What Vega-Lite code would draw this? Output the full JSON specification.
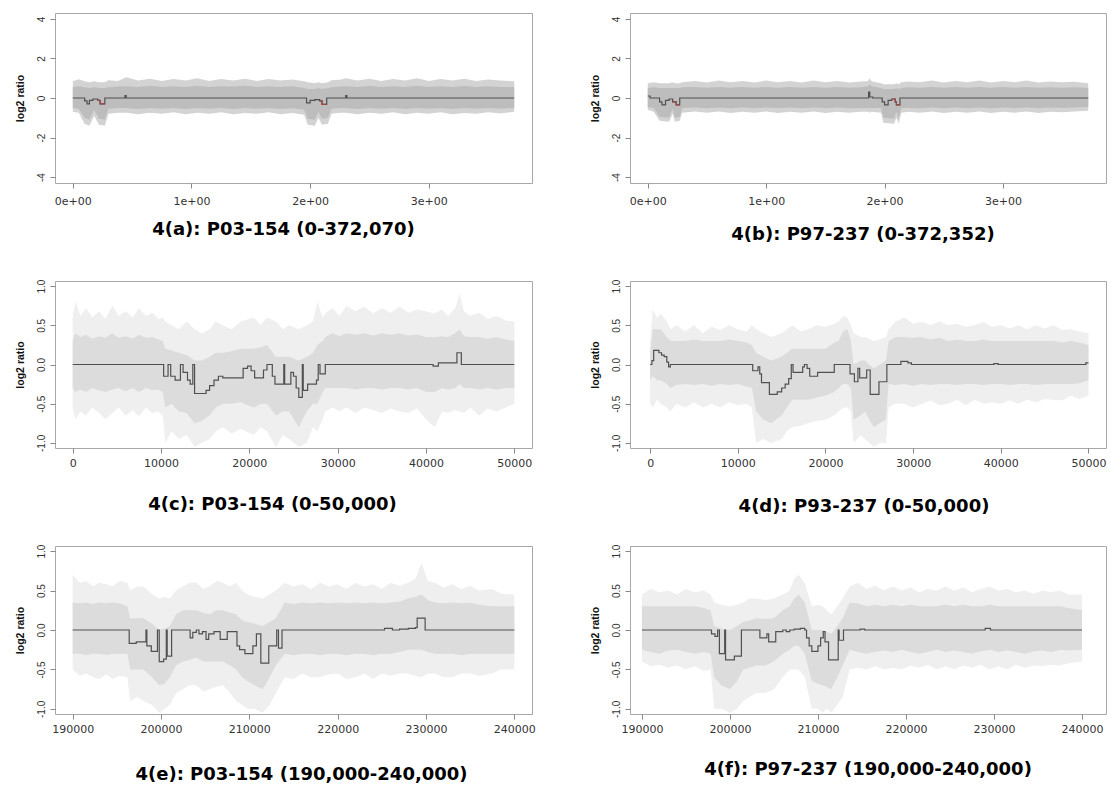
{
  "$schema": "https://vega.github.io/schema/vega-lite/v6.json",
  "padding": {"left": 14, "top": 12, "right": 0, "bottom": 0},
  "autosize": {"type": "pad"},
  "background": "white",
  "datasets": {
    "env_a": [
      {"x": 0, "hi": 0.85, "lo": -0.7, "hi2": 0.55, "lo2": -0.5},
      {"x": 0.05, "hi": 0.95, "lo": -0.75, "hi2": 0.6, "lo2": -0.55},
      {"x": 0.10, "hi": 0.85, "lo": -1.3, "hi2": 0.55, "lo2": -1.0},
      {"x": 0.14, "hi": 0.8, "lo": -1.4, "hi2": 0.5, "lo2": -1.1},
      {"x": 0.18, "hi": 0.85, "lo": -0.9, "hi2": 0.55, "lo2": -0.6},
      {"x": 0.22, "hi": 0.8, "lo": -1.35, "hi2": 0.5, "lo2": -1.05},
      {"x": 0.27, "hi": 0.8, "lo": -1.4, "hi2": 0.5, "lo2": -1.1},
      {"x": 0.30, "hi": 0.9, "lo": -0.8, "hi2": 0.55, "lo2": -0.55},
      {"x": 0.38, "hi": 0.86, "lo": -0.74, "hi2": 0.58, "lo2": -0.5},
      {"x": 0.45, "hi": 1.05, "lo": -0.75, "hi2": 0.6, "lo2": -0.5},
      {"x": 0.55, "hi": 0.88, "lo": -0.82, "hi2": 0.56, "lo2": -0.56},
      {"x": 0.65, "hi": 0.98, "lo": -0.74, "hi2": 0.62, "lo2": -0.5},
      {"x": 0.75, "hi": 0.86, "lo": -0.8, "hi2": 0.56, "lo2": -0.55},
      {"x": 0.85, "hi": 0.96, "lo": -0.72, "hi2": 0.6, "lo2": -0.5},
      {"x": 0.95, "hi": 0.88, "lo": -0.82, "hi2": 0.56, "lo2": -0.56},
      {"x": 1.05, "hi": 1.0, "lo": -0.74, "hi2": 0.62, "lo2": -0.5},
      {"x": 1.15, "hi": 0.86, "lo": -0.8, "hi2": 0.56, "lo2": -0.55},
      {"x": 1.25, "hi": 0.96, "lo": -0.72, "hi2": 0.6, "lo2": -0.5},
      {"x": 1.35, "hi": 0.88, "lo": -0.82, "hi2": 0.58, "lo2": -0.56},
      {"x": 1.45, "hi": 0.98, "lo": -0.76, "hi2": 0.62, "lo2": -0.5},
      {"x": 1.55, "hi": 0.86, "lo": -0.8, "hi2": 0.56, "lo2": -0.55},
      {"x": 1.65, "hi": 0.96, "lo": -0.72, "hi2": 0.6, "lo2": -0.5},
      {"x": 1.75, "hi": 0.88, "lo": -0.82, "hi2": 0.56, "lo2": -0.56},
      {"x": 1.85, "hi": 0.94, "lo": -0.76, "hi2": 0.6, "lo2": -0.52},
      {"x": 1.95, "hi": 0.85, "lo": -0.85, "hi2": 0.5, "lo2": -0.6},
      {"x": 1.98, "hi": 0.8, "lo": -1.35, "hi2": 0.45, "lo2": -1.05},
      {"x": 2.04, "hi": 0.75, "lo": -1.4, "hi2": 0.45, "lo2": -1.1},
      {"x": 2.07, "hi": 0.8, "lo": -1.0, "hi2": 0.5, "lo2": -0.7},
      {"x": 2.10, "hi": 0.75, "lo": -1.35, "hi2": 0.45, "lo2": -1.05},
      {"x": 2.15, "hi": 0.8, "lo": -1.3, "hi2": 0.5, "lo2": -1.0},
      {"x": 2.18, "hi": 0.9, "lo": -0.8, "hi2": 0.55, "lo2": -0.55},
      {"x": 2.25, "hi": 0.92, "lo": -0.74, "hi2": 0.58, "lo2": -0.5},
      {"x": 2.3, "hi": 1.0, "lo": -0.75, "hi2": 0.6, "lo2": -0.5},
      {"x": 2.4, "hi": 0.88, "lo": -0.82, "hi2": 0.56, "lo2": -0.56},
      {"x": 2.5, "hi": 0.98, "lo": -0.74, "hi2": 0.62, "lo2": -0.5},
      {"x": 2.6, "hi": 0.86, "lo": -0.8, "hi2": 0.56, "lo2": -0.55},
      {"x": 2.7, "hi": 0.96, "lo": -0.72, "hi2": 0.6, "lo2": -0.5},
      {"x": 2.8, "hi": 0.88, "lo": -0.82, "hi2": 0.56, "lo2": -0.56},
      {"x": 2.9, "hi": 1.0, "lo": -0.74, "hi2": 0.62, "lo2": -0.5},
      {"x": 3.0, "hi": 0.86, "lo": -0.8, "hi2": 0.56, "lo2": -0.55},
      {"x": 3.1, "hi": 0.96, "lo": -0.72, "hi2": 0.6, "lo2": -0.5},
      {"x": 3.2, "hi": 0.88, "lo": -0.82, "hi2": 0.56, "lo2": -0.56},
      {"x": 3.3, "hi": 0.98, "lo": -0.76, "hi2": 0.62, "lo2": -0.5},
      {"x": 3.4, "hi": 0.86, "lo": -0.8, "hi2": 0.56, "lo2": -0.55},
      {"x": 3.5, "hi": 0.94, "lo": -0.72, "hi2": 0.6, "lo2": -0.5},
      {"x": 3.6, "hi": 0.88, "lo": -0.78, "hi2": 0.56, "lo2": -0.54},
      {"x": 3.72, "hi": 0.85, "lo": -0.7, "hi2": 0.55, "lo2": -0.5}
    ],
    "seg_a": [
      {"x": 0, "y": 0}, {"x": 0.10, "y": -0.15}, {"x": 0.12, "y": -0.3}, {"x": 0.14, "y": -0.12},
      {"x": 0.17, "y": -0.05}, {"x": 0.21, "y": -0.12}, {"x": 0.23, "y": -0.3}, {"x": 0.27, "y": 0},
      {"x": 0.44, "y": 0.12}, {"x": 0.45, "y": 0}, {"x": 1.97, "y": -0.25}, {"x": 2.0, "y": -0.12},
      {"x": 2.04, "y": -0.08}, {"x": 2.08, "y": -0.15}, {"x": 2.1, "y": -0.32}, {"x": 2.14, "y": 0},
      {"x": 2.3, "y": 0.12}, {"x": 2.31, "y": 0}, {"x": 3.72, "y": 0}
    ],
    "red_a": [
      {"g": 1, "x": 0.21, "y": -0.12}, {"g": 1, "x": 0.23, "y": -0.3}, {"g": 1, "x": 0.27, "y": -0.3},
      {"g": 2, "x": 2.08, "y": -0.15}, {"g": 2, "x": 2.1, "y": -0.32}, {"g": 2, "x": 2.14, "y": -0.32}
    ],
    "env_b": [
      {"x": 0, "hi": 0.75, "lo": -0.6, "hi2": 0.5, "lo2": -0.45},
      {"x": 0.05, "hi": 0.8, "lo": -0.7, "hi2": 0.55, "lo2": -0.5},
      {"x": 0.10, "hi": 0.75, "lo": -1.15, "hi2": 0.5, "lo2": -0.95},
      {"x": 0.18, "hi": 0.75, "lo": -1.2, "hi2": 0.5, "lo2": -1.0},
      {"x": 0.21, "hi": 0.8, "lo": -0.8, "hi2": 0.5, "lo2": -0.55},
      {"x": 0.23, "hi": 0.75, "lo": -1.2, "hi2": 0.5, "lo2": -1.0},
      {"x": 0.27, "hi": 0.75, "lo": -1.15, "hi2": 0.5, "lo2": -0.95},
      {"x": 0.29, "hi": 0.8, "lo": -0.75, "hi2": 0.55, "lo2": -0.5},
      {"x": 0.4, "hi": 0.86, "lo": -0.68, "hi2": 0.56, "lo2": -0.48},
      {"x": 0.5, "hi": 0.78, "lo": -0.74, "hi2": 0.52, "lo2": -0.52},
      {"x": 0.6, "hi": 0.88, "lo": -0.68, "hi2": 0.56, "lo2": -0.48},
      {"x": 0.7, "hi": 0.8, "lo": -0.76, "hi2": 0.52, "lo2": -0.52},
      {"x": 0.8, "hi": 0.86, "lo": -0.7, "hi2": 0.56, "lo2": -0.48},
      {"x": 0.9, "hi": 0.78, "lo": -0.74, "hi2": 0.52, "lo2": -0.52},
      {"x": 1.0, "hi": 0.88, "lo": -0.68, "hi2": 0.56, "lo2": -0.48},
      {"x": 1.1, "hi": 0.8, "lo": -0.76, "hi2": 0.52, "lo2": -0.52},
      {"x": 1.2, "hi": 0.86, "lo": -0.7, "hi2": 0.56, "lo2": -0.48},
      {"x": 1.3, "hi": 0.78, "lo": -0.74, "hi2": 0.52, "lo2": -0.52},
      {"x": 1.4, "hi": 0.88, "lo": -0.68, "hi2": 0.56, "lo2": -0.48},
      {"x": 1.5, "hi": 0.8, "lo": -0.76, "hi2": 0.52, "lo2": -0.52},
      {"x": 1.6, "hi": 0.86, "lo": -0.7, "hi2": 0.56, "lo2": -0.48},
      {"x": 1.7, "hi": 0.78, "lo": -0.74, "hi2": 0.52, "lo2": -0.52},
      {"x": 1.8, "hi": 0.84, "lo": -0.7, "hi2": 0.55, "lo2": -0.5},
      {"x": 1.86, "hi": 0.85, "lo": -0.7, "hi2": 0.6, "lo2": -0.5},
      {"x": 1.87, "hi": 1.0, "lo": -0.75, "hi2": 0.7, "lo2": -0.5},
      {"x": 1.89, "hi": 0.85, "lo": -0.7, "hi2": 0.6, "lo2": -0.5},
      {"x": 1.97, "hi": 0.75, "lo": -0.75, "hi2": 0.5, "lo2": -0.5},
      {"x": 1.99, "hi": 0.7, "lo": -1.25, "hi2": 0.45, "lo2": -1.0},
      {"x": 2.08, "hi": 0.7, "lo": -1.3, "hi2": 0.45, "lo2": -1.05},
      {"x": 2.10, "hi": 0.75, "lo": -1.0, "hi2": 0.5, "lo2": -0.7},
      {"x": 2.12, "hi": 0.7, "lo": -1.3, "hi2": 0.45, "lo2": -1.05},
      {"x": 2.14, "hi": 0.8, "lo": -0.75, "hi2": 0.5, "lo2": -0.5},
      {"x": 2.2, "hi": 0.84, "lo": -0.7, "hi2": 0.54, "lo2": -0.5},
      {"x": 2.3, "hi": 0.8, "lo": -0.74, "hi2": 0.52, "lo2": -0.52},
      {"x": 2.4, "hi": 0.88, "lo": -0.68, "hi2": 0.56, "lo2": -0.48},
      {"x": 2.5, "hi": 0.78, "lo": -0.76, "hi2": 0.52, "lo2": -0.52},
      {"x": 2.6, "hi": 0.86, "lo": -0.7, "hi2": 0.56, "lo2": -0.48},
      {"x": 2.7, "hi": 0.8, "lo": -0.74, "hi2": 0.52, "lo2": -0.52},
      {"x": 2.8, "hi": 0.88, "lo": -0.68, "hi2": 0.56, "lo2": -0.48},
      {"x": 2.9, "hi": 0.78, "lo": -0.76, "hi2": 0.52, "lo2": -0.52},
      {"x": 3.0, "hi": 0.86, "lo": -0.7, "hi2": 0.56, "lo2": -0.48},
      {"x": 3.1, "hi": 0.8, "lo": -0.74, "hi2": 0.52, "lo2": -0.52},
      {"x": 3.2, "hi": 0.88, "lo": -0.68, "hi2": 0.56, "lo2": -0.48},
      {"x": 3.3, "hi": 0.78, "lo": -0.76, "hi2": 0.52, "lo2": -0.52},
      {"x": 3.4, "hi": 0.84, "lo": -0.7, "hi2": 0.55, "lo2": -0.48},
      {"x": 3.5, "hi": 0.8, "lo": -0.72, "hi2": 0.52, "lo2": -0.5},
      {"x": 3.6, "hi": 0.82, "lo": -0.68, "hi2": 0.54, "lo2": -0.48},
      {"x": 3.72, "hi": 0.75, "lo": -0.65, "hi2": 0.5, "lo2": -0.45}
    ],
    "seg_b": [
      {"x": 0, "y": 0.1}, {"x": 0.02, "y": 0}, {"x": 0.1, "y": -0.2}, {"x": 0.12, "y": -0.35},
      {"x": 0.15, "y": -0.12}, {"x": 0.18, "y": -0.05}, {"x": 0.21, "y": -0.2}, {"x": 0.24, "y": -0.35},
      {"x": 0.27, "y": 0}, {"x": 1.865, "y": 0.3}, {"x": 1.875, "y": 0.05}, {"x": 1.9, "y": 0},
      {"x": 1.98, "y": -0.2}, {"x": 2.0, "y": -0.35}, {"x": 2.03, "y": -0.12}, {"x": 2.06, "y": -0.05},
      {"x": 2.09, "y": -0.2}, {"x": 2.1, "y": -0.35}, {"x": 2.13, "y": 0}, {"x": 3.72, "y": 0}
    ],
    "red_b": [
      {"g": 1, "x": 0.21, "y": -0.2}, {"g": 1, "x": 0.24, "y": -0.35}, {"g": 1, "x": 0.27, "y": -0.35},
      {"g": 2, "x": 2.06, "y": -0.05}, {"g": 2, "x": 2.09, "y": -0.2}, {"g": 2, "x": 2.1, "y": -0.35}, {"g": 2, "x": 2.13, "y": -0.35}
    ],
    "env_c": [
      {"x": 0, "hi": 0.6, "lo": -0.55, "hi2": 0.3, "lo2": -0.3},
      {"x": 300, "hi": 0.8, "lo": -0.7, "hi2": 0.4, "lo2": -0.35},
      {"x": 900, "hi": 0.62, "lo": -0.6, "hi2": 0.35, "lo2": -0.32},
      {"x": 1500, "hi": 0.72, "lo": -0.65, "hi2": 0.38, "lo2": -0.35},
      {"x": 2200, "hi": 0.6, "lo": -0.55, "hi2": 0.33, "lo2": -0.3},
      {"x": 3000, "hi": 0.68, "lo": -0.62, "hi2": 0.36, "lo2": -0.33},
      {"x": 3700, "hi": 0.58, "lo": -0.7, "hi2": 0.34, "lo2": -0.35},
      {"x": 4500, "hi": 0.75, "lo": -0.62, "hi2": 0.4, "lo2": -0.32},
      {"x": 5200, "hi": 0.62, "lo": -0.55, "hi2": 0.34, "lo2": -0.3},
      {"x": 6000, "hi": 0.68, "lo": -0.65, "hi2": 0.36, "lo2": -0.34},
      {"x": 6800, "hi": 0.6, "lo": -0.58, "hi2": 0.33, "lo2": -0.3},
      {"x": 7500, "hi": 0.72, "lo": -0.66, "hi2": 0.38, "lo2": -0.35},
      {"x": 8300, "hi": 0.62, "lo": -0.55, "hi2": 0.34, "lo2": -0.3},
      {"x": 9000, "hi": 0.66, "lo": -0.62, "hi2": 0.35, "lo2": -0.33},
      {"x": 9700, "hi": 0.58, "lo": -0.6, "hi2": 0.32, "lo2": -0.32},
      {"x": 10200, "hi": 0.6, "lo": -0.65, "hi2": 0.3, "lo2": -0.35},
      {"x": 10500, "hi": 0.55, "lo": -1.0, "hi2": 0.2, "lo2": -0.55},
      {"x": 11200, "hi": 0.5, "lo": -0.85, "hi2": 0.18, "lo2": -0.5},
      {"x": 12000, "hi": 0.45, "lo": -0.95, "hi2": 0.15, "lo2": -0.6},
      {"x": 12900, "hi": 0.55, "lo": -0.9, "hi2": 0.12, "lo2": -0.62},
      {"x": 13800, "hi": 0.45, "lo": -1.05, "hi2": 0.05, "lo2": -0.75},
      {"x": 14600, "hi": 0.4, "lo": -1.0, "hi2": 0.05, "lo2": -0.72},
      {"x": 15500, "hi": 0.45, "lo": -0.95, "hi2": 0.1, "lo2": -0.65},
      {"x": 16200, "hi": 0.55, "lo": -0.85, "hi2": 0.15, "lo2": -0.55},
      {"x": 17000, "hi": 0.5, "lo": -0.8, "hi2": 0.15, "lo2": -0.5},
      {"x": 18000, "hi": 0.45, "lo": -0.88, "hi2": 0.17, "lo2": -0.5},
      {"x": 19000, "hi": 0.55, "lo": -0.82, "hi2": 0.2, "lo2": -0.48},
      {"x": 20500, "hi": 0.6, "lo": -0.9, "hi2": 0.2, "lo2": -0.55},
      {"x": 21300, "hi": 0.5, "lo": -0.8, "hi2": 0.22, "lo2": -0.5},
      {"x": 22000, "hi": 0.6, "lo": -0.85, "hi2": 0.25, "lo2": -0.5},
      {"x": 23000, "hi": 0.55, "lo": -1.05, "hi2": 0.1, "lo2": -0.65},
      {"x": 23800, "hi": 0.45, "lo": -0.9, "hi2": 0.1, "lo2": -0.6},
      {"x": 24500, "hi": 0.5, "lo": -0.95, "hi2": 0.1, "lo2": -0.6},
      {"x": 25600, "hi": 0.45, "lo": -1.05, "hi2": 0.05, "lo2": -0.8},
      {"x": 26500, "hi": 0.5, "lo": -1.0, "hi2": 0.1, "lo2": -0.6},
      {"x": 27200, "hi": 0.55, "lo": -0.8, "hi2": 0.15, "lo2": -0.5},
      {"x": 27700, "hi": 0.8, "lo": -0.85, "hi2": 0.25, "lo2": -0.5},
      {"x": 28300, "hi": 0.6, "lo": -0.7, "hi2": 0.3, "lo2": -0.35},
      {"x": 28600, "hi": 0.65, "lo": -0.6, "hi2": 0.35, "lo2": -0.3},
      {"x": 29400, "hi": 0.72, "lo": -0.55, "hi2": 0.4, "lo2": -0.3},
      {"x": 30200, "hi": 0.62, "lo": -0.6, "hi2": 0.36, "lo2": -0.3},
      {"x": 31000, "hi": 0.75, "lo": -0.55, "hi2": 0.4, "lo2": -0.3},
      {"x": 32000, "hi": 0.68, "lo": -0.62, "hi2": 0.38, "lo2": -0.32},
      {"x": 33000, "hi": 0.74, "lo": -0.55, "hi2": 0.4, "lo2": -0.3},
      {"x": 34000, "hi": 0.65, "lo": -0.58, "hi2": 0.37, "lo2": -0.3},
      {"x": 35000, "hi": 0.72, "lo": -0.62, "hi2": 0.4, "lo2": -0.32},
      {"x": 36000, "hi": 0.66, "lo": -0.56, "hi2": 0.38, "lo2": -0.3},
      {"x": 37000, "hi": 0.74, "lo": -0.6, "hi2": 0.4, "lo2": -0.3},
      {"x": 38000, "hi": 0.66, "lo": -0.62, "hi2": 0.37, "lo2": -0.32},
      {"x": 39000, "hi": 0.7, "lo": -0.56, "hi2": 0.38, "lo2": -0.3},
      {"x": 40000, "hi": 0.68, "lo": -0.7, "hi2": 0.35, "lo2": -0.35},
      {"x": 41000, "hi": 0.65, "lo": -0.8, "hi2": 0.35, "lo2": -0.35},
      {"x": 41800, "hi": 0.7, "lo": -0.6, "hi2": 0.36, "lo2": -0.3},
      {"x": 42500, "hi": 0.62, "lo": -0.62, "hi2": 0.35, "lo2": -0.32},
      {"x": 43300, "hi": 0.72, "lo": -0.58, "hi2": 0.4, "lo2": -0.3},
      {"x": 43800, "hi": 0.9, "lo": -0.6, "hi2": 0.45, "lo2": -0.25},
      {"x": 44300, "hi": 0.68, "lo": -0.62, "hi2": 0.36, "lo2": -0.3},
      {"x": 45000, "hi": 0.62, "lo": -0.55, "hi2": 0.35, "lo2": -0.3},
      {"x": 46000, "hi": 0.66, "lo": -0.65, "hi2": 0.35, "lo2": -0.32},
      {"x": 47000, "hi": 0.58, "lo": -0.56, "hi2": 0.33, "lo2": -0.3},
      {"x": 48000, "hi": 0.62, "lo": -0.6, "hi2": 0.35, "lo2": -0.32},
      {"x": 49000, "hi": 0.56, "lo": -0.55, "hi2": 0.32, "lo2": -0.3},
      {"x": 50000, "hi": 0.55, "lo": -0.5, "hi2": 0.3, "lo2": -0.3}
    ],
    "seg_c": [
      {"x": 0, "y": 0}, {"x": 10300, "y": -0.15}, {"x": 10800, "y": 0}, {"x": 11100, "y": -0.15},
      {"x": 11600, "y": -0.2}, {"x": 12200, "y": 0}, {"x": 12500, "y": -0.1}, {"x": 13000, "y": -0.2},
      {"x": 13300, "y": -0.25}, {"x": 13600, "y": 0}, {"x": 13800, "y": -0.37}, {"x": 15100, "y": -0.33},
      {"x": 15500, "y": -0.27}, {"x": 16000, "y": -0.2}, {"x": 16500, "y": -0.15}, {"x": 17000, "y": -0.17},
      {"x": 19300, "y": -0.05}, {"x": 19800, "y": -0.02}, {"x": 20200, "y": -0.08}, {"x": 20600, "y": -0.17},
      {"x": 21600, "y": -0.07}, {"x": 22000, "y": 0}, {"x": 22600, "y": -0.15}, {"x": 22900, "y": -0.25},
      {"x": 23900, "y": 0}, {"x": 24000, "y": -0.25}, {"x": 24700, "y": -0.1}, {"x": 25000, "y": -0.15},
      {"x": 25300, "y": -0.3}, {"x": 25600, "y": -0.42}, {"x": 26000, "y": 0}, {"x": 26100, "y": -0.33},
      {"x": 26600, "y": -0.25}, {"x": 27600, "y": -0.2}, {"x": 27800, "y": 0}, {"x": 28000, "y": -0.12},
      {"x": 28600, "y": 0}, {"x": 40800, "y": -0.02}, {"x": 41400, "y": 0.02}, {"x": 43500, "y": 0.15},
      {"x": 44000, "y": 0}, {"x": 50000, "y": 0}
    ],
    "env_d": [
      {"x": 0, "hi": 0.3, "lo": -0.5, "hi2": 0.15, "lo2": -0.2},
      {"x": 300, "hi": 0.7, "lo": -0.55, "hi2": 0.45, "lo2": -0.15},
      {"x": 800, "hi": 0.6, "lo": -0.45, "hi2": 0.45, "lo2": -0.2},
      {"x": 1200, "hi": 0.65, "lo": -0.5, "hi2": 0.45, "lo2": -0.2},
      {"x": 1900, "hi": 0.55, "lo": -0.55, "hi2": 0.35, "lo2": -0.25},
      {"x": 2300, "hi": 0.45, "lo": -0.6, "hi2": 0.3, "lo2": -0.3},
      {"x": 3000, "hi": 0.5, "lo": -0.5, "hi2": 0.3, "lo2": -0.26},
      {"x": 4000, "hi": 0.42, "lo": -0.55, "hi2": 0.3, "lo2": -0.25},
      {"x": 5000, "hi": 0.5, "lo": -0.48, "hi2": 0.32, "lo2": -0.26},
      {"x": 6000, "hi": 0.4, "lo": -0.55, "hi2": 0.3, "lo2": -0.25},
      {"x": 7000, "hi": 0.48, "lo": -0.5, "hi2": 0.3, "lo2": -0.27},
      {"x": 8000, "hi": 0.44, "lo": -0.55, "hi2": 0.3, "lo2": -0.25},
      {"x": 9000, "hi": 0.5, "lo": -0.48, "hi2": 0.32, "lo2": -0.26},
      {"x": 10000, "hi": 0.45, "lo": -0.52, "hi2": 0.3, "lo2": -0.25},
      {"x": 11000, "hi": 0.42, "lo": -0.5, "hi2": 0.28, "lo2": -0.28},
      {"x": 11600, "hi": 0.5, "lo": -0.55, "hi2": 0.25, "lo2": -0.3},
      {"x": 12100, "hi": 0.45, "lo": -1.0, "hi2": 0.15, "lo2": -0.6},
      {"x": 12900, "hi": 0.4, "lo": -0.95, "hi2": 0.1, "lo2": -0.7},
      {"x": 13800, "hi": 0.35, "lo": -1.0, "hi2": 0.05, "lo2": -0.75},
      {"x": 15000, "hi": 0.4, "lo": -0.95, "hi2": 0.1, "lo2": -0.65},
      {"x": 15600, "hi": 0.45, "lo": -0.85, "hi2": 0.15, "lo2": -0.55},
      {"x": 16200, "hi": 0.5, "lo": -0.8, "hi2": 0.2, "lo2": -0.45},
      {"x": 17200, "hi": 0.42, "lo": -0.78, "hi2": 0.2, "lo2": -0.45},
      {"x": 18000, "hi": 0.45, "lo": -0.75, "hi2": 0.2, "lo2": -0.45},
      {"x": 19000, "hi": 0.5, "lo": -0.72, "hi2": 0.2, "lo2": -0.42},
      {"x": 20000, "hi": 0.48, "lo": -0.7, "hi2": 0.2, "lo2": -0.4},
      {"x": 21000, "hi": 0.52, "lo": -0.65, "hi2": 0.28, "lo2": -0.35},
      {"x": 21500, "hi": 0.55, "lo": -0.6, "hi2": 0.3, "lo2": -0.3},
      {"x": 22000, "hi": 0.62, "lo": -0.55, "hi2": 0.42, "lo2": -0.25},
      {"x": 22500, "hi": 0.6, "lo": -0.55, "hi2": 0.45, "lo2": -0.25},
      {"x": 22900, "hi": 0.5, "lo": -0.6, "hi2": 0.3, "lo2": -0.3},
      {"x": 23200, "hi": 0.4, "lo": -1.0, "hi2": 0.0, "lo2": -0.7},
      {"x": 24000, "hi": 0.35, "lo": -0.9, "hi2": 0.05, "lo2": -0.65},
      {"x": 24500, "hi": 0.35, "lo": -0.95, "hi2": 0.05, "lo2": -0.6},
      {"x": 25500, "hi": 0.3, "lo": -1.05, "hi2": -0.05, "lo2": -0.8},
      {"x": 26200, "hi": 0.32, "lo": -1.0, "hi2": 0.0, "lo2": -0.75},
      {"x": 26900, "hi": 0.35, "lo": -1.0, "hi2": 0.05, "lo2": -0.7},
      {"x": 27200, "hi": 0.45, "lo": -0.55, "hi2": 0.3, "lo2": -0.25},
      {"x": 28000, "hi": 0.55, "lo": -0.5, "hi2": 0.35, "lo2": -0.26},
      {"x": 29000, "hi": 0.6, "lo": -0.5, "hi2": 0.35, "lo2": -0.25},
      {"x": 30000, "hi": 0.52, "lo": -0.55, "hi2": 0.34, "lo2": -0.27},
      {"x": 31000, "hi": 0.55, "lo": -0.5, "hi2": 0.35, "lo2": -0.25},
      {"x": 32000, "hi": 0.5, "lo": -0.46, "hi2": 0.32, "lo2": -0.26},
      {"x": 33000, "hi": 0.55, "lo": -0.52, "hi2": 0.34, "lo2": -0.25},
      {"x": 34000, "hi": 0.5, "lo": -0.5, "hi2": 0.3, "lo2": -0.25},
      {"x": 35000, "hi": 0.52, "lo": -0.45, "hi2": 0.32, "lo2": -0.26},
      {"x": 36000, "hi": 0.48, "lo": -0.52, "hi2": 0.3, "lo2": -0.25},
      {"x": 37000, "hi": 0.5, "lo": -0.45, "hi2": 0.3, "lo2": -0.25},
      {"x": 38000, "hi": 0.54, "lo": -0.5, "hi2": 0.32, "lo2": -0.26},
      {"x": 39000, "hi": 0.48, "lo": -0.48, "hi2": 0.3, "lo2": -0.25},
      {"x": 40000, "hi": 0.5, "lo": -0.5, "hi2": 0.3, "lo2": -0.25},
      {"x": 41000, "hi": 0.46, "lo": -0.46, "hi2": 0.3, "lo2": -0.26},
      {"x": 42000, "hi": 0.5, "lo": -0.5, "hi2": 0.3, "lo2": -0.25},
      {"x": 43000, "hi": 0.45, "lo": -0.45, "hi2": 0.3, "lo2": -0.25},
      {"x": 44000, "hi": 0.5, "lo": -0.48, "hi2": 0.3, "lo2": -0.26},
      {"x": 45000, "hi": 0.46, "lo": -0.44, "hi2": 0.3, "lo2": -0.25},
      {"x": 46000, "hi": 0.5, "lo": -0.45, "hi2": 0.3, "lo2": -0.25},
      {"x": 47000, "hi": 0.44, "lo": -0.46, "hi2": 0.28, "lo2": -0.25},
      {"x": 48000, "hi": 0.45, "lo": -0.4, "hi2": 0.3, "lo2": -0.25},
      {"x": 49000, "hi": 0.42, "lo": -0.44, "hi2": 0.28, "lo2": -0.24},
      {"x": 50000, "hi": 0.4, "lo": -0.4, "hi2": 0.25, "lo2": -0.2}
    ],
    "seg_d": [
      {"x": 0, "y": 0}, {"x": 200, "y": 0.05}, {"x": 400, "y": 0.18}, {"x": 1000, "y": 0.15},
      {"x": 1300, "y": 0.12}, {"x": 1600, "y": 0.1}, {"x": 1900, "y": 0.03}, {"x": 2100, "y": -0.03},
      {"x": 2300, "y": 0}, {"x": 11700, "y": -0.08}, {"x": 12300, "y": -0.03}, {"x": 12500, "y": -0.12},
      {"x": 12700, "y": -0.23}, {"x": 13600, "y": -0.38}, {"x": 14500, "y": -0.35}, {"x": 15000, "y": -0.3},
      {"x": 15400, "y": -0.25}, {"x": 15800, "y": -0.18}, {"x": 16100, "y": 0}, {"x": 16300, "y": -0.1},
      {"x": 17400, "y": -0.03}, {"x": 17600, "y": 0}, {"x": 17900, "y": -0.05}, {"x": 18200, "y": -0.15},
      {"x": 19100, "y": -0.1}, {"x": 21000, "y": 0}, {"x": 22800, "y": -0.12}, {"x": 23300, "y": -0.22},
      {"x": 23700, "y": -0.05}, {"x": 23900, "y": -0.17}, {"x": 24700, "y": -0.07}, {"x": 25100, "y": -0.38},
      {"x": 26100, "y": -0.22}, {"x": 27000, "y": 0}, {"x": 28600, "y": 0.04}, {"x": 29400, "y": 0.02},
      {"x": 29800, "y": 0}, {"x": 39200, "y": 0.01}, {"x": 39700, "y": 0}, {"x": 49700, "y": 0.02},
      {"x": 50000, "y": 0.02}
    ],
    "env_e": [
      {"x": 190000, "hi": 0.7, "lo": -0.5, "hi2": 0.35, "lo2": -0.3},
      {"x": 190800, "hi": 0.6, "lo": -0.58, "hi2": 0.34, "lo2": -0.3},
      {"x": 191500, "hi": 0.62, "lo": -0.55, "hi2": 0.35, "lo2": -0.32},
      {"x": 192300, "hi": 0.55, "lo": -0.6, "hi2": 0.33, "lo2": -0.3},
      {"x": 193000, "hi": 0.6, "lo": -0.62, "hi2": 0.35, "lo2": -0.3},
      {"x": 193800, "hi": 0.58, "lo": -0.56, "hi2": 0.34, "lo2": -0.32},
      {"x": 194500, "hi": 0.55, "lo": -0.62, "hi2": 0.35, "lo2": -0.3},
      {"x": 195300, "hi": 0.62, "lo": -0.58, "hi2": 0.34, "lo2": -0.3},
      {"x": 196200, "hi": 0.6, "lo": -0.6, "hi2": 0.3, "lo2": -0.3},
      {"x": 196500, "hi": 0.5, "lo": -0.9, "hi2": 0.15, "lo2": -0.5},
      {"x": 197300, "hi": 0.55, "lo": -0.85, "hi2": 0.15, "lo2": -0.5},
      {"x": 198000, "hi": 0.55, "lo": -0.9, "hi2": 0.15, "lo2": -0.5},
      {"x": 199000, "hi": 0.45, "lo": -0.95, "hi2": 0.08, "lo2": -0.6},
      {"x": 199800, "hi": 0.4, "lo": -1.05, "hi2": 0.0, "lo2": -0.7},
      {"x": 200400, "hi": 0.42, "lo": -1.0, "hi2": 0.02, "lo2": -0.68},
      {"x": 201000, "hi": 0.4, "lo": -0.95, "hi2": 0.05, "lo2": -0.6},
      {"x": 201700, "hi": 0.5, "lo": -0.8, "hi2": 0.2, "lo2": -0.45},
      {"x": 202500, "hi": 0.55, "lo": -0.75, "hi2": 0.25, "lo2": -0.4},
      {"x": 203200, "hi": 0.6, "lo": -0.7, "hi2": 0.25, "lo2": -0.38},
      {"x": 204000, "hi": 0.6, "lo": -0.7, "hi2": 0.25, "lo2": -0.35},
      {"x": 204800, "hi": 0.52, "lo": -0.78, "hi2": 0.22, "lo2": -0.4},
      {"x": 205500, "hi": 0.55, "lo": -0.75, "hi2": 0.2, "lo2": -0.4},
      {"x": 206300, "hi": 0.62, "lo": -0.72, "hi2": 0.25, "lo2": -0.4},
      {"x": 207000, "hi": 0.6, "lo": -0.7, "hi2": 0.25, "lo2": -0.4},
      {"x": 207800, "hi": 0.55, "lo": -0.8, "hi2": 0.22, "lo2": -0.45},
      {"x": 208500, "hi": 0.6, "lo": -0.9, "hi2": 0.2, "lo2": -0.5},
      {"x": 209200, "hi": 0.5, "lo": -0.95, "hi2": 0.12, "lo2": -0.6},
      {"x": 209800, "hi": 0.45, "lo": -1.0, "hi2": 0.1, "lo2": -0.65},
      {"x": 210600, "hi": 0.42, "lo": -1.0, "hi2": 0.08, "lo2": -0.7},
      {"x": 211500, "hi": 0.4, "lo": -1.05, "hi2": 0.05, "lo2": -0.75},
      {"x": 212300, "hi": 0.45, "lo": -0.95, "hi2": 0.1, "lo2": -0.6},
      {"x": 213000, "hi": 0.5, "lo": -0.8, "hi2": 0.15, "lo2": -0.45},
      {"x": 214000, "hi": 0.6, "lo": -0.6, "hi2": 0.35, "lo2": -0.3},
      {"x": 215000, "hi": 0.55, "lo": -0.62, "hi2": 0.33, "lo2": -0.32},
      {"x": 216000, "hi": 0.58, "lo": -0.55, "hi2": 0.35, "lo2": -0.3},
      {"x": 217000, "hi": 0.52, "lo": -0.6, "hi2": 0.34, "lo2": -0.3},
      {"x": 218000, "hi": 0.6, "lo": -0.6, "hi2": 0.35, "lo2": -0.32},
      {"x": 219000, "hi": 0.55, "lo": -0.56, "hi2": 0.34, "lo2": -0.3},
      {"x": 220000, "hi": 0.58, "lo": -0.55, "hi2": 0.35, "lo2": -0.3},
      {"x": 221000, "hi": 0.52, "lo": -0.62, "hi2": 0.34, "lo2": -0.32},
      {"x": 222000, "hi": 0.6, "lo": -0.6, "hi2": 0.35, "lo2": -0.3},
      {"x": 223000, "hi": 0.55, "lo": -0.55, "hi2": 0.34, "lo2": -0.3},
      {"x": 224000, "hi": 0.58, "lo": -0.62, "hi2": 0.35, "lo2": -0.32},
      {"x": 225000, "hi": 0.52, "lo": -0.55, "hi2": 0.34, "lo2": -0.3},
      {"x": 226000, "hi": 0.6, "lo": -0.58, "hi2": 0.35, "lo2": -0.3},
      {"x": 227000, "hi": 0.56, "lo": -0.55, "hi2": 0.36, "lo2": -0.28},
      {"x": 228000, "hi": 0.6, "lo": -0.55, "hi2": 0.4, "lo2": -0.25},
      {"x": 228800, "hi": 0.65, "lo": -0.58, "hi2": 0.42, "lo2": -0.25},
      {"x": 229500, "hi": 0.85, "lo": -0.6, "hi2": 0.45, "lo2": -0.25},
      {"x": 230200, "hi": 0.62, "lo": -0.55, "hi2": 0.38, "lo2": -0.28},
      {"x": 231000, "hi": 0.6, "lo": -0.55, "hi2": 0.35, "lo2": -0.3},
      {"x": 232000, "hi": 0.54, "lo": -0.6, "hi2": 0.34, "lo2": -0.3},
      {"x": 233000, "hi": 0.58, "lo": -0.6, "hi2": 0.35, "lo2": -0.3},
      {"x": 234000, "hi": 0.52, "lo": -0.55, "hi2": 0.34, "lo2": -0.32},
      {"x": 235000, "hi": 0.56, "lo": -0.55, "hi2": 0.35, "lo2": -0.3},
      {"x": 236000, "hi": 0.5, "lo": -0.58, "hi2": 0.32, "lo2": -0.3},
      {"x": 237500, "hi": 0.52, "lo": -0.55, "hi2": 0.3, "lo2": -0.3},
      {"x": 238500, "hi": 0.46, "lo": -0.5, "hi2": 0.3, "lo2": -0.3},
      {"x": 240000, "hi": 0.45, "lo": -0.5, "hi2": 0.3, "lo2": -0.3}
    ],
    "seg_e": [
      {"x": 190000, "y": 0}, {"x": 196400, "y": -0.17}, {"x": 197200, "y": -0.15}, {"x": 198300, "y": 0},
      {"x": 198400, "y": -0.2}, {"x": 198900, "y": -0.27}, {"x": 199600, "y": 0}, {"x": 199800, "y": -0.4},
      {"x": 200300, "y": -0.37}, {"x": 200600, "y": 0}, {"x": 200700, "y": -0.33}, {"x": 201200, "y": 0},
      {"x": 203300, "y": -0.1}, {"x": 203600, "y": -0.03}, {"x": 204000, "y": 0}, {"x": 204300, "y": -0.05},
      {"x": 204700, "y": -0.02}, {"x": 205100, "y": -0.12}, {"x": 205400, "y": -0.05}, {"x": 206000, "y": -0.02},
      {"x": 206700, "y": -0.12}, {"x": 207500, "y": -0.02}, {"x": 208600, "y": -0.2}, {"x": 208900, "y": -0.25},
      {"x": 209500, "y": -0.3}, {"x": 210400, "y": -0.2}, {"x": 210800, "y": -0.05}, {"x": 211300, "y": -0.42},
      {"x": 212200, "y": -0.2}, {"x": 213100, "y": 0}, {"x": 213300, "y": -0.23}, {"x": 213700, "y": 0},
      {"x": 225300, "y": 0.02}, {"x": 226200, "y": 0}, {"x": 227000, "y": 0.01}, {"x": 228000, "y": 0.02},
      {"x": 228800, "y": 0.03}, {"x": 229000, "y": 0.15}, {"x": 229900, "y": 0}, {"x": 240000, "y": 0}
    ],
    "env_f": [
      {"x": 190000, "hi": 0.45, "lo": -0.4, "hi2": 0.3, "lo2": -0.25},
      {"x": 191000, "hi": 0.52, "lo": -0.46, "hi2": 0.3, "lo2": -0.28},
      {"x": 192000, "hi": 0.48, "lo": -0.44, "hi2": 0.3, "lo2": -0.3},
      {"x": 193000, "hi": 0.5, "lo": -0.48, "hi2": 0.3, "lo2": -0.26},
      {"x": 194000, "hi": 0.45, "lo": -0.45, "hi2": 0.3, "lo2": -0.25},
      {"x": 195000, "hi": 0.52, "lo": -0.5, "hi2": 0.3, "lo2": -0.28},
      {"x": 196000, "hi": 0.48, "lo": -0.46, "hi2": 0.3, "lo2": -0.3},
      {"x": 197000, "hi": 0.5, "lo": -0.52, "hi2": 0.28, "lo2": -0.28},
      {"x": 197800, "hi": 0.45, "lo": -0.5, "hi2": 0.25, "lo2": -0.3},
      {"x": 198200, "hi": 0.35, "lo": -1.0, "hi2": 0.05, "lo2": -0.6},
      {"x": 199000, "hi": 0.32, "lo": -1.0, "hi2": 0.02, "lo2": -0.7},
      {"x": 200000, "hi": 0.3, "lo": -1.05, "hi2": 0.0, "lo2": -0.75},
      {"x": 200800, "hi": 0.32, "lo": -1.0, "hi2": 0.05, "lo2": -0.65},
      {"x": 201500, "hi": 0.35, "lo": -0.9, "hi2": 0.1, "lo2": -0.5},
      {"x": 202200, "hi": 0.4, "lo": -0.85, "hi2": 0.12, "lo2": -0.48},
      {"x": 203000, "hi": 0.4, "lo": -0.8, "hi2": 0.15, "lo2": -0.45},
      {"x": 204000, "hi": 0.38, "lo": -0.8, "hi2": 0.14, "lo2": -0.45},
      {"x": 205000, "hi": 0.4, "lo": -0.75, "hi2": 0.15, "lo2": -0.4},
      {"x": 206000, "hi": 0.45, "lo": -0.6, "hi2": 0.25, "lo2": -0.3},
      {"x": 206800, "hi": 0.5, "lo": -0.5, "hi2": 0.3, "lo2": -0.25},
      {"x": 207300, "hi": 0.65, "lo": -0.5, "hi2": 0.4, "lo2": -0.2},
      {"x": 207800, "hi": 0.7, "lo": -0.5, "hi2": 0.45, "lo2": -0.2},
      {"x": 208500, "hi": 0.6, "lo": -0.6, "hi2": 0.35, "lo2": -0.3},
      {"x": 209300, "hi": 0.3, "lo": -1.0, "hi2": 0.0, "lo2": -0.65},
      {"x": 210000, "hi": 0.32, "lo": -1.0, "hi2": 0.0, "lo2": -0.68},
      {"x": 210500, "hi": 0.3, "lo": -1.05, "hi2": 0.0, "lo2": -0.7},
      {"x": 211000, "hi": 0.25, "lo": -1.0, "hi2": -0.02, "lo2": -0.72},
      {"x": 211500, "hi": 0.2, "lo": -1.05, "hi2": -0.05, "lo2": -0.75},
      {"x": 212200, "hi": 0.3, "lo": -0.95, "hi2": 0.05, "lo2": -0.6},
      {"x": 212800, "hi": 0.4, "lo": -0.85, "hi2": 0.15, "lo2": -0.45},
      {"x": 213600, "hi": 0.55, "lo": -0.5, "hi2": 0.35, "lo2": -0.25},
      {"x": 214500, "hi": 0.6, "lo": -0.48, "hi2": 0.34, "lo2": -0.28},
      {"x": 215500, "hi": 0.52, "lo": -0.5, "hi2": 0.3, "lo2": -0.3},
      {"x": 216500, "hi": 0.56, "lo": -0.46, "hi2": 0.32, "lo2": -0.28},
      {"x": 217500, "hi": 0.5, "lo": -0.5, "hi2": 0.3, "lo2": -0.26},
      {"x": 218500, "hi": 0.55, "lo": -0.48, "hi2": 0.32, "lo2": -0.28},
      {"x": 219500, "hi": 0.5, "lo": -0.5, "hi2": 0.3, "lo2": -0.25},
      {"x": 220500, "hi": 0.54, "lo": -0.45, "hi2": 0.32, "lo2": -0.28},
      {"x": 221500, "hi": 0.48, "lo": -0.48, "hi2": 0.3, "lo2": -0.3},
      {"x": 222500, "hi": 0.52, "lo": -0.44, "hi2": 0.3, "lo2": -0.28},
      {"x": 223500, "hi": 0.5, "lo": -0.5, "hi2": 0.3, "lo2": -0.25},
      {"x": 224500, "hi": 0.55, "lo": -0.46, "hi2": 0.32, "lo2": -0.28},
      {"x": 225500, "hi": 0.5, "lo": -0.5, "hi2": 0.3, "lo2": -0.26},
      {"x": 226500, "hi": 0.54, "lo": -0.45, "hi2": 0.32, "lo2": -0.28},
      {"x": 227500, "hi": 0.48, "lo": -0.48, "hi2": 0.3, "lo2": -0.3},
      {"x": 228500, "hi": 0.52, "lo": -0.44, "hi2": 0.3, "lo2": -0.27},
      {"x": 229500, "hi": 0.55, "lo": -0.5, "hi2": 0.32, "lo2": -0.25},
      {"x": 230500, "hi": 0.5, "lo": -0.46, "hi2": 0.3, "lo2": -0.28},
      {"x": 231500, "hi": 0.52, "lo": -0.5, "hi2": 0.3, "lo2": -0.26},
      {"x": 232500, "hi": 0.48, "lo": -0.44, "hi2": 0.3, "lo2": -0.28},
      {"x": 233500, "hi": 0.5, "lo": -0.48, "hi2": 0.3, "lo2": -0.3},
      {"x": 234500, "hi": 0.46, "lo": -0.45, "hi2": 0.3, "lo2": -0.27},
      {"x": 235500, "hi": 0.5, "lo": -0.46, "hi2": 0.3, "lo2": -0.26},
      {"x": 236500, "hi": 0.48, "lo": -0.44, "hi2": 0.3, "lo2": -0.28},
      {"x": 237500, "hi": 0.5, "lo": -0.45, "hi2": 0.3, "lo2": -0.25},
      {"x": 238500, "hi": 0.45, "lo": -0.42, "hi2": 0.28, "lo2": -0.26},
      {"x": 240000, "hi": 0.45, "lo": -0.4, "hi2": 0.25, "lo2": -0.25}
    ],
    "seg_f": [
      {"x": 190000, "y": 0}, {"x": 197900, "y": -0.05}, {"x": 198300, "y": -0.08}, {"x": 198600, "y": 0},
      {"x": 198800, "y": -0.3}, {"x": 199400, "y": 0}, {"x": 199500, "y": -0.38}, {"x": 200500, "y": -0.33},
      {"x": 201300, "y": 0}, {"x": 203400, "y": -0.1}, {"x": 204200, "y": -0.05}, {"x": 204400, "y": -0.15},
      {"x": 205200, "y": -0.02}, {"x": 206000, "y": 0}, {"x": 206400, "y": -0.02}, {"x": 206800, "y": 0},
      {"x": 207300, "y": 0.01}, {"x": 208000, "y": 0.02}, {"x": 208500, "y": 0}, {"x": 208700, "y": -0.1},
      {"x": 209000, "y": -0.2}, {"x": 209300, "y": -0.27}, {"x": 210000, "y": -0.2}, {"x": 210300, "y": -0.1},
      {"x": 210600, "y": -0.02}, {"x": 210800, "y": -0.15}, {"x": 211200, "y": -0.38}, {"x": 212300, "y": 0},
      {"x": 212400, "y": -0.13}, {"x": 212900, "y": 0}, {"x": 214800, "y": 0.01}, {"x": 215300, "y": 0},
      {"x": 229000, "y": 0.02}, {"x": 229600, "y": 0}, {"x": 240000, "y": 0}
    ]
  },
  "columns": 2,
  "spacing": {"row": 98, "column": 98},
  "bounds": "flush",
  "concat": [
    {
      "width": 477, "height": 170,
      "title": {"text": "4(a): P03-154 (0-372,070)", "offset": 15, "dx": -10},
      "layer": [
        {"data": {"name": "env_a"}, "mark": {"type": "area", "color": "#d3d3d3"},
         "encoding": {
           "x": {"field": "x", "type": "quantitative", "title": null, "scale": {"domain": [-0.15, 3.87], "nice": false, "zero": false}, "axis": {"values": [0, 1, 2, 3], "labelExpr": "datum.value + 'e+00'", "labelPadding": 7}},
           "y": {"field": "hi", "type": "quantitative", "title": "log2 ratio", "scale": {"domain": [-4.3, 4.3], "nice": false, "zero": false}, "axis": {"values": [-4, -2, 0, 2, 4], "labelExpr": "datum.value + ''"}},
           "y2": {"field": "lo"}}},
        {"data": {"name": "env_a"}, "mark": {"type": "area", "color": "#bdbdbd"},
         "encoding": {"x": {"field": "x", "type": "quantitative", "title": null}, "y": {"field": "hi2", "type": "quantitative", "title": "log2 ratio"}, "y2": {"field": "lo2"}}},
        {"data": {"name": "seg_a"}, "mark": {"type": "line", "interpolate": "step-after", "color": "#505050", "strokeWidth": 1.2},
         "encoding": {"x": {"field": "x", "type": "quantitative", "title": null}, "y": {"field": "y", "type": "quantitative", "title": "log2 ratio"}}},
        {"data": {"name": "red_a"}, "mark": {"type": "line", "interpolate": "step-after", "color": "#a04848", "strokeWidth": 1.2},
         "encoding": {"x": {"field": "x", "type": "quantitative", "title": null}, "y": {"field": "y", "type": "quantitative", "title": "log2 ratio"}, "detail": {"field": "g", "type": "nominal"}}}
      ]
    },
    {
      "width": 476, "height": 170,
      "title": {"text": "4(b): P97-237 (0-372,352)", "offset": 20, "dx": -5},
      "layer": [
        {"data": {"name": "env_b"}, "mark": {"type": "area", "color": "#d3d3d3"},
         "encoding": {
           "x": {"field": "x", "type": "quantitative", "title": null, "scale": {"domain": [-0.15, 3.87], "nice": false, "zero": false}, "axis": {"values": [0, 1, 2, 3], "labelExpr": "datum.value + 'e+00'", "labelPadding": 7}},
           "y": {"field": "hi", "type": "quantitative", "title": "log2 ratio", "scale": {"domain": [-4.3, 4.3], "nice": false, "zero": false}, "axis": {"values": [-4, -2, 0, 2, 4], "labelExpr": "datum.value + ''"}},
           "y2": {"field": "lo"}}},
        {"data": {"name": "env_b"}, "mark": {"type": "area", "color": "#bdbdbd"},
         "encoding": {"x": {"field": "x", "type": "quantitative", "title": null}, "y": {"field": "hi2", "type": "quantitative", "title": "log2 ratio"}, "y2": {"field": "lo2"}}},
        {"data": {"name": "seg_b"}, "mark": {"type": "line", "interpolate": "step-after", "color": "#505050", "strokeWidth": 1.2},
         "encoding": {"x": {"field": "x", "type": "quantitative", "title": null}, "y": {"field": "y", "type": "quantitative", "title": "log2 ratio"}}},
        {"data": {"name": "red_b"}, "mark": {"type": "line", "interpolate": "step-after", "color": "#a04848", "strokeWidth": 1.2},
         "encoding": {"x": {"field": "x", "type": "quantitative", "title": null}, "y": {"field": "y", "type": "quantitative", "title": "log2 ratio"}, "detail": {"field": "g", "type": "nominal"}}}
      ]
    },
    {
      "width": 477, "height": 167,
      "title": {"text": "4(c): P03-154 (0-50,000)", "offset": 28, "dx": -21},
      "layer": [
        {"data": {"name": "env_c"}, "mark": {"type": "area", "color": "#efefef"},
         "encoding": {
           "x": {"field": "x", "type": "quantitative", "title": null, "scale": {"domain": [-2000, 52000], "nice": false, "zero": false}, "axis": {"values": [0, 10000, 20000, 30000, 40000, 50000], "labelExpr": "datum.value + ''"}},
           "y": {"field": "hi", "type": "quantitative", "title": "log2 ratio", "scale": {"domain": [-1.065, 1.065], "nice": false, "zero": false}, "axis": {"values": [-1, -0.5, 0, 0.5, 1], "labelExpr": "replace(format(datum.value, '.1f'), '\u2212', '-')"}},
           "y2": {"field": "lo"}}},
        {"data": {"name": "env_c"}, "mark": {"type": "area", "color": "#dcdcdc"},
         "encoding": {"x": {"field": "x", "type": "quantitative", "title": null}, "y": {"field": "hi2", "type": "quantitative", "title": "log2 ratio"}, "y2": {"field": "lo2"}}},
        {"data": {"name": "seg_c"}, "mark": {"type": "line", "interpolate": "step-after", "color": "#505050", "strokeWidth": 1.2},
         "encoding": {"x": {"field": "x", "type": "quantitative", "title": null}, "y": {"field": "y", "type": "quantitative", "title": "log2 ratio"}}}
      ]
    },
    {
      "width": 476, "height": 167,
      "title": {"text": "4(d): P93-237 (0-50,000)", "offset": 30, "dx": -4},
      "layer": [
        {"data": {"name": "env_d"}, "mark": {"type": "area", "color": "#efefef"},
         "encoding": {
           "x": {"field": "x", "type": "quantitative", "title": null, "scale": {"domain": [-2300, 52000], "nice": false, "zero": false}, "axis": {"values": [0, 10000, 20000, 30000, 40000, 50000], "labelExpr": "datum.value + ''"}},
           "y": {"field": "hi", "type": "quantitative", "title": "log2 ratio", "scale": {"domain": [-1.065, 1.065], "nice": false, "zero": false}, "axis": {"values": [-1, -0.5, 0, 0.5, 1], "labelExpr": "replace(format(datum.value, '.1f'), '\u2212', '-')"}},
           "y2": {"field": "lo"}}},
        {"data": {"name": "env_d"}, "mark": {"type": "area", "color": "#dcdcdc"},
         "encoding": {"x": {"field": "x", "type": "quantitative", "title": null}, "y": {"field": "hi2", "type": "quantitative", "title": "log2 ratio"}, "y2": {"field": "lo2"}}},
        {"data": {"name": "seg_d"}, "mark": {"type": "line", "interpolate": "step-after", "color": "#505050", "strokeWidth": 1.2},
         "encoding": {"x": {"field": "x", "type": "quantitative", "title": null}, "y": {"field": "y", "type": "quantitative", "title": "log2 ratio"}}}
      ]
    },
    {
      "width": 477, "height": 168,
      "title": {"text": "4(e): P03-154 (190,000-240,000)", "offset": 32, "dx": 8},
      "layer": [
        {"data": {"name": "env_e"}, "mark": {"type": "area", "color": "#efefef"},
         "encoding": {
           "x": {"field": "x", "type": "quantitative", "title": null, "scale": {"domain": [188000, 242000], "nice": false, "zero": false}, "axis": {"values": [190000, 200000, 210000, 220000, 230000, 240000], "labelExpr": "datum.value + ''"}},
           "y": {"field": "hi", "type": "quantitative", "title": "log2 ratio", "scale": {"domain": [-1.065, 1.065], "nice": false, "zero": false}, "axis": {"values": [-1, -0.5, 0, 0.5, 1], "labelExpr": "replace(format(datum.value, '.1f'), '\u2212', '-')"}},
           "y2": {"field": "lo"}}},
        {"data": {"name": "env_e"}, "mark": {"type": "area", "color": "#dcdcdc"},
         "encoding": {"x": {"field": "x", "type": "quantitative", "title": null}, "y": {"field": "hi2", "type": "quantitative", "title": "log2 ratio"}, "y2": {"field": "lo2"}}},
        {"data": {"name": "seg_e"}, "mark": {"type": "line", "interpolate": "step-after", "color": "#505050", "strokeWidth": 1.2},
         "encoding": {"x": {"field": "x", "type": "quantitative", "title": null}, "y": {"field": "y", "type": "quantitative", "title": "log2 ratio"}}}
      ]
    },
    {
      "width": 476, "height": 168,
      "title": {"text": "4(f): P97-237 (190,000-240,000)", "offset": 27, "dx": 0},
      "layer": [
        {"data": {"name": "env_f"}, "mark": {"type": "area", "color": "#efefef"},
         "encoding": {
           "x": {"field": "x", "type": "quantitative", "title": null, "scale": {"domain": [188640, 242730], "nice": false, "zero": false}, "axis": {"values": [190000, 200000, 210000, 220000, 230000, 240000], "labelExpr": "datum.value + ''"}},
           "y": {"field": "hi", "type": "quantitative", "title": "log2 ratio", "scale": {"domain": [-1.065, 1.065], "nice": false, "zero": false}, "axis": {"values": [-1, -0.5, 0, 0.5, 1], "labelExpr": "replace(format(datum.value, '.1f'), '\u2212', '-')"}},
           "y2": {"field": "lo"}}},
        {"data": {"name": "env_f"}, "mark": {"type": "area", "color": "#dcdcdc"},
         "encoding": {"x": {"field": "x", "type": "quantitative", "title": null}, "y": {"field": "hi2", "type": "quantitative", "title": "log2 ratio"}, "y2": {"field": "lo2"}}},
        {"data": {"name": "seg_f"}, "mark": {"type": "line", "interpolate": "step-after", "color": "#505050", "strokeWidth": 1.2},
         "encoding": {"x": {"field": "x", "type": "quantitative", "title": null}, "y": {"field": "y", "type": "quantitative", "title": "log2 ratio"}}}
      ]
    }
  ],
  "config": {
    "view": {"stroke": "#a8a8a8", "strokeWidth": 1},
    "axis": {
      "grid": false, "domain": false, "ticks": true, "tickColor": "#888888", "tickSize": 5,
      "labelColor": "#333333", "titleColor": "#111111", "labelOverlap": false, "labelFlush": false
    },
    "axisX": {"labelFont": "DejaVu Sans", "labelFontSize": 11, "labelPadding": 4},
    "axisY": {
      "labelFont": "Liberation Sans", "labelFontSize": 10, "labelAngle": -90, "labelAlign": "center", "labelBaseline": "bottom", "labelPadding": 4,
      "titleFont": "Liberation Sans", "titleFontSize": 10.5, "titleFontWeight": "bold", "titlePadding": 11
    },
    "title": {"orient": "bottom", "font": "DejaVu Sans", "fontSize": 18, "fontWeight": "bold", "color": "#000000", "anchor": "middle", "frame": "group"}
  }
}
